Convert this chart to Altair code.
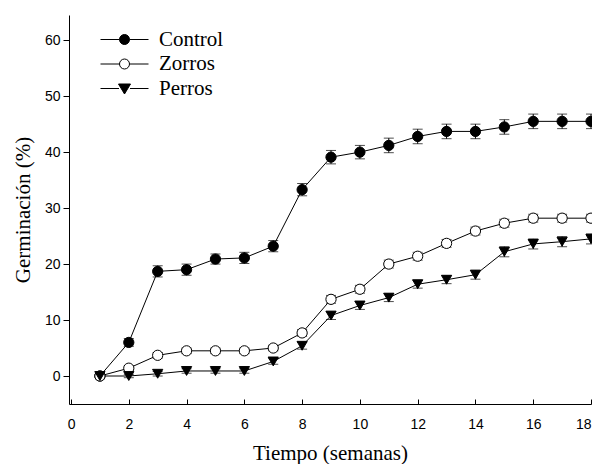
import altair as alt
import pandas as pd

weeks = list(range(1, 19))
series_names = ["Control", "Zorros", "Perros"]
control = [0, 6.0, 18.7, 19.0, 20.9, 21.1, 23.2, 33.3, 39.1, 40.0, 41.2, 42.8, 43.7, 43.7, 44.5, 45.5, 45.5, 45.5]
control_err = [0.5, 0.7, 1.0, 1.0, 0.9, 1.0, 1.0, 1.1, 1.2, 1.2, 1.3, 1.3, 1.3, 1.3, 1.3, 1.3, 1.3, 1.3]
zorros = [0, 1.4, 3.7, 4.5, 4.5, 4.5, 5.0, 7.7, 13.7, 15.5, 20.0, 21.4, 23.7, 25.9, 27.3, 28.2, 28.2, 28.2]
zorros_err = [0.3, 0.4, 0.5, 0.5, 0.5, 0.5, 0.5, 0.6, 0.7, 0.7, 0.7, 0.7, 0.7, 0.7, 0.7, 0.7, 0.7, 0.7]
perros = [0, 0, 0.4, 0.9, 0.9, 0.9, 2.6, 5.4, 10.8, 12.6, 14.0, 16.4, 17.2, 18.1, 22.2, 23.6, 24.0, 24.5]
perros_err = [0.3, 0.3, 0.4, 0.4, 0.4, 0.4, 0.5, 0.6, 0.7, 0.7, 0.7, 0.7, 0.7, 0.8, 0.9, 0.9, 0.9, 0.9]

rows = []
for name, vals, errs in [("Control", control, control_err), ("Zorros", zorros, zorros_err), ("Perros", perros, perros_err)]:
    for w, v, e in zip(weeks, vals, errs):
        rows.append({"week": w, "value": v, "err": e, "series": name})
df = pd.DataFrame(rows)

W, H = 522, 389
xscale = alt.Scale(domain=[-0.07, 18], nice=False, zero=False)
yscale = alt.Scale(domain=[-5, 64.5], nice=False, zero=False)

base = alt.Chart(df)

x_enc = alt.X("week:Q", scale=xscale, title="Tiempo (semanas)",
              axis=alt.Axis(values=list(range(0, 19, 2)), grid=False,
                            tickSize=alt.ExprRef(expr="-5"), labelPadding=18,
                            labelFlush=True, titleY=38))
y_enc = alt.Y("value:Q", scale=yscale, title="Germinación (%)",
              axis=alt.Axis(values=list(range(0, 61, 10)), grid=False,
                            tickSize=6, labelPadding=3, titleX=-36))

lines = base.mark_line(color="black", strokeWidth=1).encode(
    x=x_enc, y=y_enc, detail="series:N")

err_base = base.transform_calculate(lo="datum.value - datum.err", hi="datum.value + datum.err")
err_rule = err_base.mark_rule(color="black", strokeWidth=1).encode(
    x="week:Q", y="lo:Q", y2="hi:Q")
err_lo = err_base.mark_tick(orient="horizontal", color="black", size=10, thickness=1).encode(
    x="week:Q", y="lo:Q")
err_hi = err_base.mark_tick(orient="horizontal", color="black", size=10, thickness=1).encode(
    x="week:Q", y="hi:Q")

points = base.mark_point(filled=True, stroke="black", strokeWidth=1, opacity=1).encode(
    x="week:Q", y="value:Q",
    shape=alt.Shape("series:N", scale=alt.Scale(domain=series_names,
                    range=["circle", "circle", "triangle-down"]), legend=None),
    fill=alt.Fill("series:N", scale=alt.Scale(domain=series_names,
                  range=["black", "white", "black"]), legend=None),
    size=alt.Size("series:N", scale=alt.Scale(domain=series_names, range=[105, 105, 135]), legend=None),
)

circ = "M0.5,0 A0.5,0.5 0 1,1 -0.5,0 A0.5,0.5 0 1,1 0.5,0 Z"
leg_line = "M-2.4,0 L-0.5,0 M0.5,0 L2.4,0 "
leg_line_t = "M-2.4,0 L-0.55,0 M0.55,0 L2.4,0 "
tri = "M-0.6,-0.45 L0.6,-0.45 L0,0.55 Z"
legend_layer = base.transform_filter("false").mark_point(
    filled=True, strokeWidth=1, size=400, opacity=1).encode(
    x="week:Q", y="value:Q",
    shape=alt.Shape("series:N", scale=alt.Scale(domain=series_names,
                    range=[leg_line + circ, leg_line + circ, leg_line_t + tri]), title=None),
    fill=alt.Fill("series:N", scale=alt.Scale(domain=series_names,
                  range=["black", "white", "black"]), title=None),
    stroke=alt.Stroke("series:N", scale=alt.Scale(domain=series_names,
                      range=["black", "black", "black"]), title=None),
)

chart = alt.layer(lines, err_rule, err_lo, err_hi, points, legend_layer).resolve_scale(
    shape="independent", fill="independent", size="independent", stroke="independent"
).properties(
    width=W, height=H,
    autosize=alt.AutoSizeParams(type="none"),
    padding={"left": 61, "top": 7, "right": 1, "bottom": 60},
).configure_view(stroke=None).configure_axis(
    domainColor="black", tickColor="black", labelColor="black", titleColor="black",
    labelFont="Liberation Sans", labelFontSize=14,
    titleFont="Liberation Serif", titleFontSize=21, titleFontWeight="normal",
).configure_legend(
    orient="none", legendX=45, legendY=14, padding=0,
    labelFont="Liberation Serif", labelFontSize=21, labelColor="black",
    labelOffset=24, rowPadding=2.5, symbolStrokeWidth=1,
    symbolSize=400,
)

chart.save("out.html", embed_options={"renderer": "svg", "actions": False})
